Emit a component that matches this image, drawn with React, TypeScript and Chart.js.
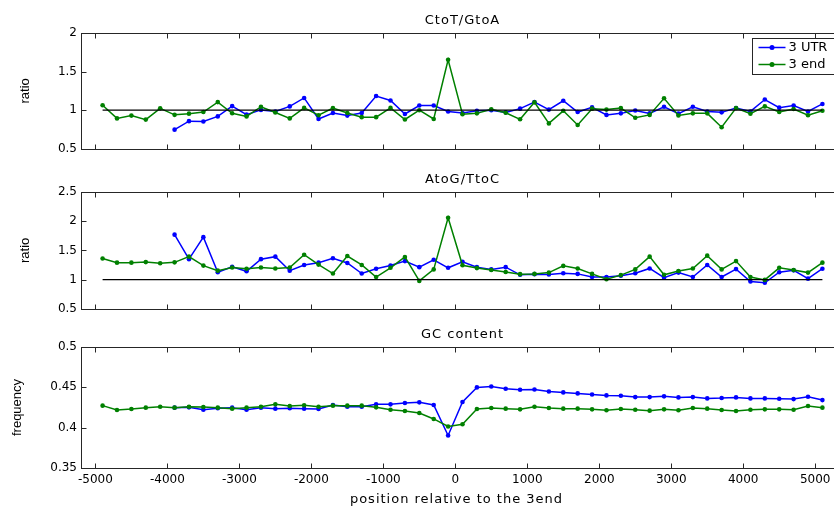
import React, { useEffect, useRef } from "react";
import { Chart, registerables } from "chart.js";

Chart.register(...registerables);

// ---------- data ----------
const POS_3END = [
  -4900, -4700, -4500, -4300, -4100, -3900, -3700, -3500, -3300, -3100, -2900, -2700, -2500,
  -2300, -2100, -1900, -1700, -1500, -1300, -1100, -900, -700, -500, -300, -100,
  100, 300, 500, 700, 900, 1100, 1300, 1500, 1700, 1900, 2100, 2300, 2500, 2700, 2900,
  3100, 3300, 3500, 3700, 3900, 4100, 4300, 4500, 4700, 4900, 5100,
];
const POS_UTR = [
  -3900, -3700, -3500, -3300, -3100, -2900, -2700, -2500, -2300, -2100, -1900, -1700, -1500,
  -1300, -1100, -900, -700, -500, -300, -100,
  100, 300, 500, 700, 900, 1100, 1300, 1500, 1700, 1900, 2100, 2300, 2500, 2700, 2900,
  3100, 3300, 3500, 3700, 3900, 4100, 4300, 4500, 4700, 4900, 5100,
];

const CT_3END = [
  1.065, 0.894, 0.93, 0.878, 1.024, 0.94, 0.955, 0.976, 1.105, 0.96, 0.92, 1.045, 0.97,
  0.894, 1.03, 0.935, 1.028, 0.963, 0.91, 0.91, 1.03, 0.88, 1.0, 0.886, 1.654,
  0.947, 0.959, 1.012, 0.967, 0.882, 1.102, 0.829, 0.992, 0.809, 1.02, 1.008, 1.028, 0.902,
  0.939, 1.154, 0.931, 0.959, 0.959, 0.78, 1.028, 0.955, 1.049, 0.976, 1.016, 0.935, 0.992,
];
const CT_UTR = [
  0.748, 0.858, 0.854, 0.92, 1.053, 0.943, 1.004, 0.984, 1.049, 1.159, 0.886, 0.963, 0.93,
  0.963, 1.183, 1.126, 0.951, 1.061, 1.061, 0.984,
  0.963, 0.992, 1.0, 0.972, 1.02, 1.106, 1.008, 1.122, 0.976, 1.037, 0.939, 0.959, 0.996,
  0.959, 1.045, 0.955, 1.045, 0.984, 0.972, 1.028, 0.984, 1.138, 1.033, 1.061, 0.984, 1.081,
];

const AG_3END = [
  1.361, 1.29, 1.29, 1.3, 1.279, 1.295, 1.393, 1.24, 1.153, 1.208, 1.186, 1.208, 1.191,
  1.208, 1.426, 1.257, 1.104, 1.404, 1.251, 1.044, 1.202, 1.388, 0.978, 1.175, 2.06,
  1.246, 1.197, 1.164, 1.131, 1.093, 1.098, 1.12, 1.235, 1.191, 1.098, 1.005, 1.077, 1.175,
  1.393, 1.082, 1.148, 1.191, 1.41, 1.175, 1.317, 1.044, 0.995, 1.202, 1.164, 1.12, 1.29,
];
const AG_UTR = [
  1.77, 1.35, 1.727, 1.126, 1.219, 1.142, 1.35, 1.393, 1.153, 1.251, 1.29, 1.366, 1.284,
  1.104, 1.186, 1.24, 1.317, 1.213, 1.339, 1.202,
  1.306, 1.213, 1.175, 1.213, 1.082, 1.093, 1.087, 1.109, 1.098, 1.044, 1.044, 1.066, 1.109,
  1.191, 1.033, 1.12, 1.044, 1.251, 1.044, 1.18, 0.967, 0.945, 1.126, 1.158, 1.016, 1.186,
];

const GC_3END = [
  0.4273, 0.4219, 0.4231, 0.4248, 0.426, 0.4248, 0.426, 0.4256, 0.4248, 0.4236, 0.4248, 0.426,
  0.4289, 0.4268, 0.4277, 0.426, 0.4273, 0.4273, 0.4273, 0.4252, 0.4223, 0.4207, 0.4182,
  0.4108, 0.4014,
  0.4042, 0.4231, 0.4244, 0.4236, 0.4227, 0.426, 0.4244, 0.4236, 0.4236, 0.4227, 0.4215,
  0.4231, 0.4223, 0.4211, 0.4227, 0.4215, 0.4244, 0.4236, 0.4219, 0.4207, 0.4223, 0.4227,
  0.4227, 0.4223, 0.4268, 0.4248,
];
const GC_UTR = [
  0.4248, 0.4252, 0.4223, 0.424, 0.4248, 0.4223, 0.4248, 0.4236, 0.424, 0.4236, 0.4231,
  0.4281, 0.426, 0.426, 0.4289, 0.4289, 0.4305, 0.4314, 0.4281, 0.3903,
  0.4318, 0.4499, 0.4511, 0.4482, 0.447, 0.4474, 0.4449, 0.4437, 0.4425, 0.4412, 0.44,
  0.4396, 0.4379, 0.4379, 0.4388, 0.4375, 0.4379, 0.4363, 0.4367, 0.4375, 0.4363, 0.4363,
  0.4359, 0.4354, 0.4383, 0.4342,
];

const REF_X = [-4900, 5100];
const REF_Y = [1, 1];

const X_TICKS = [-5000, -4000, -3000, -2000, -1000, 0, 1000, 2000, 3000, 4000, 5000];
const Y1_TICKS = [0.5, 1, 1.5, 2];
const Y2_TICKS = [0.5, 1, 1.5, 2, 2.5];
const Y3_TICKS = [0.35, 0.4, 0.45, 0.5];

const SERIES_LABELS = ["3 UTR", "3 end"];
const PANEL_TITLES = ["CtoT/GtoA", "AtoG/TtoC", "GC content"];
const Y_TITLES = ["ratio", "ratio", "frequency"];
const X_TITLE = "position relative to the 3end";

// ---------- style ----------
const BLUE = "#0000ff";
const GREEN = "#008000";
const FRAME = "#262626";
const CANVAS_W = 860;

const pts = (xs: number[], ys: number[]) => xs.map((x, i) => ({ x, y: ys[i] }));

const frameTicksPlugin = {
  id: "frameTicks",
  beforeDatasetsDraw(chart: any) {
    const { ctx, chartArea: a, scales } = chart;
    const L = Math.round(a.left) + 0.5;
    const R = Math.round(a.right) + 0.5;
    const T = Math.round(a.top) + 0.5;
    const B = Math.round(a.bottom) + 0.5;
    ctx.save();
    ctx.strokeStyle = FRAME;
    ctx.lineWidth = 1;
    ctx.strokeRect(L, T, R - L, B - T);
    const len = 5;
    ctx.beginPath();
    for (const v of X_TICKS) {
      const px = Math.round(scales.x.getPixelForValue(v)) + 0.5;
      ctx.moveTo(px, T);
      ctx.lineTo(px, T + len);
      ctx.moveTo(px, B);
      ctx.lineTo(px, B - len);
    }
    for (const t of scales.y.ticks) {
      const py = Math.round(scales.y.getPixelForValue(t.value)) + 0.5;
      ctx.moveTo(L, py);
      ctx.lineTo(L + len, py);
      ctx.moveTo(R, py);
      ctx.lineTo(R - len, py);
    }
    ctx.stroke();
    ctx.restore();
  },
};

const makeTextPlugin = (title: string, xTitle: string | null) => ({
  id: "panelTexts",
  afterDraw(chart: any) {
    const { ctx, chartArea: a } = chart;
    ctx.save();
    ctx.fillStyle = "#000";
    ctx.font = '13px "DejaVu Sans"';
    (ctx as any).letterSpacing = "1px";
    ctx.textAlign = "center";
    ctx.textBaseline = "alphabetic";
    ctx.fillText(title, (a.left + a.right) / 2, a.top - 9);
    if (xTitle) {
      ctx.fillText(xTitle, (a.left + a.right) / 2 - 6, a.bottom + 35);
    }
    ctx.restore();
  },
});

const legendPlugin = {
  id: "boxLegend",
  afterDraw(chart: any) {
    const { ctx, chartArea: a } = chart;
    const items = chart.data.datasets.filter((d: any) => d.label);
    const left = Math.round(a.right - 92) + 0.5;
    const top = Math.round(a.top + 5) + 0.5;
    const w = 87;
    const h = 36;
    ctx.save();
    ctx.fillStyle = "#fff";
    ctx.fillRect(left, top, w, h);
    ctx.strokeStyle = FRAME;
    ctx.lineWidth = 1;
    ctx.strokeRect(left, top, w, h);
    items.forEach((d: any, i: number) => {
      const y = top + 9 + i * 17;
      ctx.strokeStyle = d.borderColor;
      ctx.lineWidth = 1.5;
      ctx.beginPath();
      ctx.moveTo(left + 6, y);
      ctx.lineTo(left + 33, y);
      ctx.stroke();
      ctx.fillStyle = d.borderColor;
      ctx.beginPath();
      ctx.arc(left + 19.5, y, 2.5, 0, Math.PI * 2);
      ctx.fill();
      ctx.fillStyle = "#000";
      ctx.font = '13px "DejaVu Sans"';
      ctx.textBaseline = "middle";
      ctx.textAlign = "left";
      ctx.fillText(d.label, left + 36, y + 0.5);
    });
    ctx.restore();
  },
};

const lineDs = (label: string, xs: number[], ys: number[], color: string, order: number) => ({
  label,
  data: pts(xs, ys),
  borderColor: color,
  backgroundColor: color,
  borderWidth: 1.5,
  pointRadius: 2.3,
  pointBorderWidth: 0,
  pointBackgroundColor: color,
  tension: 0,
  order,
});

const refDs = () => ({
  label: "",
  data: pts(REF_X, REF_Y),
  borderColor: "#000",
  borderWidth: 1.3,
  pointRadius: 0,
  order: 0,
});

type PanelDef = {
  top: number;
  height: number;
  padTop: number;
  padBottom: number;
  yMin: number;
  yMax: number;
  yTicks: number[];
  utr: number[];
  end3: number[];
  withRef: boolean;
  withLegend: boolean;
  showX: boolean;
  title: string;
  yTitle: string;
  yTitlePad: number;
};

const PANELS: PanelDef[] = [
  {
    top: 0, height: 160, padTop: 33, padBottom: 5, yMin: 0.5, yMax: 2, yTicks: Y1_TICKS,
    utr: CT_UTR, end3: CT_3END, withRef: true, withLegend: true, showX: false,
    title: PANEL_TITLES[0], yTitle: Y_TITLES[0], yTitlePad: 18,
  },
  {
    top: 160, height: 160, padTop: 32, padBottom: 6, yMin: 0.5, yMax: 2.5, yTicks: Y2_TICKS,
    utr: AG_UTR, end3: AG_3END, withRef: true, withLegend: false, showX: false,
    title: PANEL_TITLES[1], yTitle: Y_TITLES[1], yTitlePad: 18,
  },
  {
    top: 320, height: 197, padTop: 27, padBottom: 0, yMin: 0.35, yMax: 0.5, yTicks: Y3_TICKS,
    utr: GC_UTR, end3: GC_3END, withRef: false, withLegend: false, showX: true,
    title: PANEL_TITLES[2], yTitle: Y_TITLES[2], yTitlePad: 10,
  },
];

function buildConfig(p: PanelDef): any {
  const datasets: any[] = [
    lineDs(SERIES_LABELS[0], POS_UTR, p.utr, BLUE, 2),
    lineDs(SERIES_LABELS[1], POS_3END, p.end3, GREEN, 1),
  ];
  if (p.withRef) datasets.push(refDs());
  const plugins: any[] = [frameTicksPlugin, makeTextPlugin(p.title, p.showX ? X_TITLE : null)];
  if (p.withLegend) plugins.push(legendPlugin);
  return {
    type: "line",
    data: { datasets },
    plugins,
    options: {
      animation: false,
      responsive: false,
      events: [],
      layout: { padding: { top: p.padTop, bottom: p.padBottom, left: 0, right: 16 } },
      plugins: { legend: { display: false }, tooltip: { enabled: false }, title: { display: false } },
      scales: {
        x: {
          type: "linear",
          min: -5200,
          max: 5400,
          display: p.showX,
          afterBuildTicks: (s: any) => {
            s.ticks = X_TICKS.map((v) => ({ value: v }));
          },
          afterFit: (s: any) => {
            if (p.showX) s.height = 49;
          },
          grid: { display: false, drawTicks: false },
          border: { display: false },
          ticks: {
            autoSkip: false,
            maxRotation: 0,
            padding: 5,
            color: "#000",
            font: { family: "DejaVu Sans", size: 12 },
            callback: (v: any) => String(v),
          },
          title: { display: false },
        },
        y: {
          type: "linear",
          min: p.yMin,
          max: p.yMax,
          afterBuildTicks: (s: any) => {
            s.ticks = p.yTicks.map((v) => ({ value: v }));
          },
          afterFit: (s: any) => {
            s.width = 81;
          },
          grid: { display: false, drawTicks: false },
          border: { display: false },
          ticks: {
            padding: 4,
            color: "#000",
            font: { family: "DejaVu Sans", size: 12 },
            callback: (v: any) => String(v),
          },
          title: {
            display: true,
            text: p.yTitle,
            color: "#000",
            font: { family: "Liberation Sans", size: 13 },
            padding: { top: p.yTitlePad, bottom: 0 },
          },
        },
      },
    },
  };
}

function Panel({ def }: { def: PanelDef }) {
  const ref = useRef<HTMLCanvasElement>(null);
  useEffect(() => {
    const chart = new Chart(ref.current as HTMLCanvasElement, buildConfig(def));
    return () => chart.destroy();
  }, [def]);
  return (
    <canvas
      ref={ref}
      width={CANVAS_W}
      height={def.height}
      style={{ position: "absolute", left: 0, top: def.top, width: CANVAS_W, height: def.height }}
    />
  );
}

export default function App() {
  return (
    <div
      style={{
        position: "absolute",
        left: 0,
        top: 0,
        width: 834,
        height: 517,
        overflow: "hidden",
        background: "#fff",
      }}
    >
      {PANELS.map((p, i) => (
        <Panel key={i} def={p} />
      ))}
    </div>
  );
}
